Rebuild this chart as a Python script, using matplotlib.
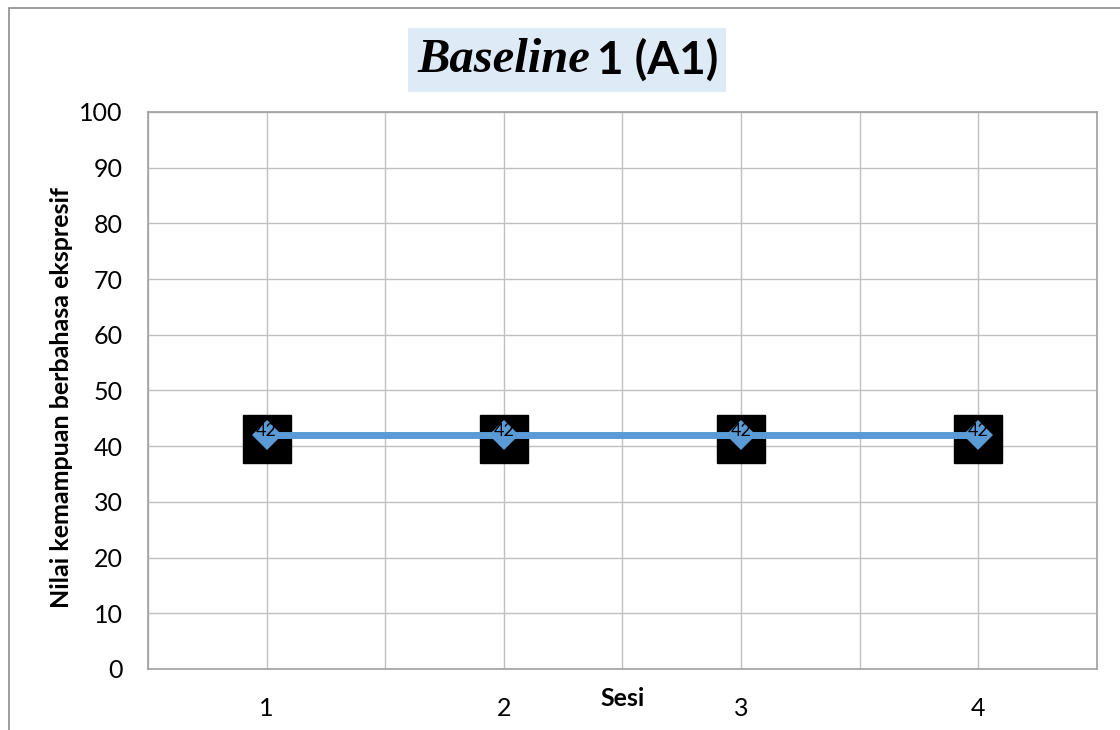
import matplotlib.pyplot as plt
from matplotlib.patches import Rectangle
from matplotlib.transforms import offset_copy

# Data
sesi = [1, 2, 3, 4]
nilai = [42, 42, 42, 42]
sesi_labels = ['1', '2', '3', '4']
yticks = [0, 10, 20, 30, 40, 50, 60, 70, 80, 90, 100]

plt.rcParams['font.family'] = ['Lato', 'DejaVu Sans']

fig = plt.figure(figsize=(11.2, 7.3), dpi=100)
ax = fig.add_axes([0.1321, 0.0836, 0.8473, 0.763])

# chart border (left and top only show)
fig.patches.append(Rectangle((9/1120, -0.1), 1.2, 1 - 8/730 + 0.1, transform=fig.transFigure,
	fill=False, edgecolor='#8c8c8c', linewidth=1.2))

# grid at every half session
ax.set_xlim(0.5, 4.5)
ax.set_ylim(0, 100)
ax.set_xticks([x + 0.5 for x in range(0, 5)], minor=True)
ax.set_xticks(sesi)
ax.set_xticklabels(sesi_labels)
ax.set_yticks(yticks)
ax.grid(True, which='both', color='#c0c0c0', linewidth=1)
ax.set_axisbelow(True)
for s in ax.spines.values():
	s.set_color('#a0a0a0')
	s.set_linewidth(1.2)
ax.tick_params(which='both', length=0)
ax.tick_params(axis='y', labelsize=18, pad=18)
ax.tick_params(axis='x', labelsize=18, pad=20)

ax.plot(sesi, nilai, color='#5b9bd5', linewidth=5, zorder=3)
# black label boxes behind the markers
box_tr = offset_copy(ax.transData, fig=fig, x=0, y=-3, units='points')
ax.plot(sesi, nilai, linestyle='none', marker='s', markersize=34, color='black',
	transform=box_tr, zorder=2)
ax.plot(sesi, nilai, linestyle='none', marker='D', markersize=15, color='#5b9bd5',
	markeredgewidth=0, zorder=4)
for x, y in zip(sesi, nilai):
	ax.annotate(str(y), (x, y), xytext=(0, 3), textcoords='offset points',
		ha='center', va='center', fontsize=13, color='black', zorder=5)

ax.set_ylabel('Nilai kemampuan berbahasa ekspresif', fontsize=18, fontweight='bold')
ax.yaxis.set_label_coords(-0.079, 0.488)
fig.text(623/1120, 1 - 698/730, 'Sesi', fontsize=18, fontweight='bold', ha='center', va='center')

# title with shaded box
fig.patches.append(Rectangle((408/1120, 1 - 92/730), 318/1120, 64/730, transform=fig.transFigure,
	facecolor='#deebf7', edgecolor='none'))
fig.text(590/1120, 1 - 60/730, 'Baseline', family='Liberation Serif', style='italic',
	fontweight='bold', fontsize=35, ha='right', va='center')
fig.text(597/1120, 1 - 60/730, '1 (A1)', fontweight='bold', fontsize=33, ha='left', va='center')

plt.savefig('out.png', dpi=100)
